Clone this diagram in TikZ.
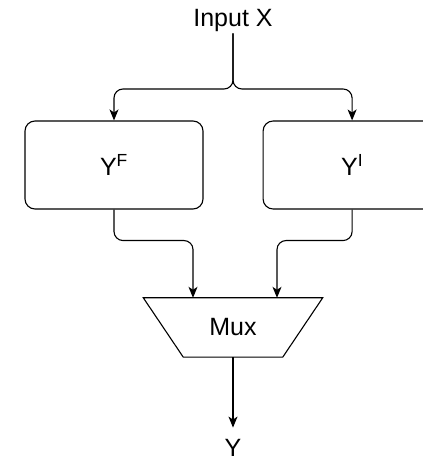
\documentclass[tikz,border=0pt]{standalone}
\usepackage{fontspec}
\setmainfont{Liberation Sans}
\usetikzlibrary{arrows.meta, positioning}

\begin{document}
\begin{tikzpicture}[
      x=1pt, y=1pt,
      box/.style={draw, line width=1.1pt, rounded corners=10pt,
        minimum width=178pt, minimum height=88pt, align=center,
        font=\fontsize{25}{30}\selectfont},
      txt/.style={inner sep=1pt, font=\fontsize{25}{30}\selectfont},
      wire/.style={->, line width=1.1pt, rounded corners=9pt},
      >={Stealth[length=11pt, width=9pt, inset=3pt]}
    ]
      \useasboundingbox (0,0) rectangle (423,461);
      \node[txt, anchor=base] (input) at (233,434) {Input X};
      \node[box] (yf) at (114,296) {Y\textsuperscript{F}};
      \node[box, right=59pt of yf] (yi) {Y\textsuperscript{I}};
      % multiplexer: text node, outline drawn from its corners
      \node[minimum width=179pt, minimum height=59pt,
        font=\fontsize{25}{30}\selectfont] (mux) at (233,133.5) {Mux};
      \draw[line width=1.1pt] (mux.north west) -- (mux.north east)
        -- ([xshift=-40pt]mux.south east) -- ([xshift=40pt]mux.south west)
        -- cycle;
      \node[txt, anchor=base] (out) at (233,5) {Y};
      \coordinate (split) at (233,372);
      \draw[wire] (input.south) -- (split) -| (yf.north);
      \draw[wire] (input.south) -- (split) -| (yi.north);
      \draw[wire] (yf.south) -- ++(0,-31) -| ([xshift=-40pt]mux.north);
      \draw[wire] (yi.south) -- ++(0,-31) -| ([xshift=44pt]mux.north);
      \draw[wire, shorten >=10pt] (mux.south) -- (out.north);
    \end{tikzpicture}
\end{document}
